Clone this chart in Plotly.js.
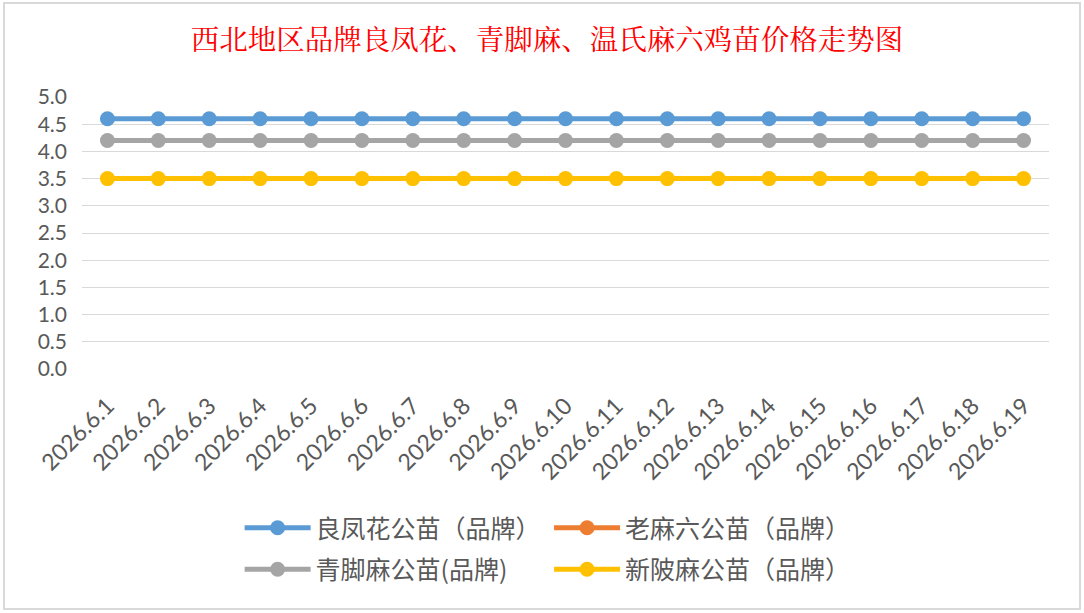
<!DOCTYPE html>
<html>
<head>
<meta charset="utf-8">
<script src="https://cdn.plot.ly/plotly-3.0.1.min.js"></script>
<style>
  html, body { margin: 0; padding: 0; background: #ffffff; }
  #graph { position: absolute; left: 0; top: 0; width: 1084px; height: 613px; }
  #frame {
    position: absolute; left: 3px; top: 2px; width: 1074px; height: 604px;
    border: 2px solid #d9d9d9; pointer-events: none;
  }
</style>
</head>
<body>
<div id="graph"></div>
<div id="frame"></div>
<script>
// data
const dates = ["2026.6.1", "2026.6.2", "2026.6.3", "2026.6.4", "2026.6.5", "2026.6.6", "2026.6.7",
    "2026.6.8", "2026.6.9", "2026.6.10", "2026.6.11", "2026.6.12", "2026.6.13", "2026.6.14",
    "2026.6.15", "2026.6.16", "2026.6.17", "2026.6.18", "2026.6.19"];
const liangFengHua = [4.6, 4.6, 4.6, 4.6, 4.6, 4.6, 4.6, 4.6, 4.6, 4.6, 4.6, 4.6, 4.6, 4.6, 4.6, 4.6, 4.6, 4.6, 4.6];
// no visible marks for this series in the picture
const laoMaLiu = [null, null, null, null, null, null, null, null, null, null, null, null, null, null, null, null, null, null, null];
const qingJiaoMa = [4.2, 4.2, 4.2, 4.2, 4.2, 4.2, 4.2, 4.2, 4.2, 4.2, 4.2, 4.2, 4.2, 4.2, 4.2, 4.2, 4.2, 4.2, 4.2];
const xinPiMa = [3.5, 3.5, 3.5, 3.5, 3.5, 3.5, 3.5, 3.5, 3.5, 3.5, 3.5, 3.5, 3.5, 3.5, 3.5, 3.5, 3.5, 3.5, 3.5];
const yTicks = [0, 0.5, 1, 1.5, 2, 2.5, 3, 3.5, 4, 4.5, 5];

const numFont = "Lato, 'Noto Sans CJK SC', sans-serif";
const cjkFont = "'Noto Sans CJK SC', Lato, sans-serif";

function series(name, y, color, legend) {
    return {
        name: name,
        x: dates,
        y: y,
        type: 'scatter',
        mode: 'lines+markers',
        line: { color: color, width: 5 },
        marker: { color: color, size: 15 },
        legend: legend,
        legendgroup: name,
    };
}

const traces = [
    series("良凤花公苗（品牌）", liangFengHua, "#5B9BD5", "legend"),
    series("老麻六公苗（品牌）", laoMaLiu, "#ED7D31", "legend2"),
    series("青脚麻公苗(品牌)", qingJiaoMa, "#A5A5A5", "legend"),
    series("新陂麻公苗（品牌）", xinPiMa, "#FFC000", "legend2"),
];

const legendBase = {
    orientation: 'v',
    xanchor: 'left',
    yanchor: 'top',
    y: -0.5,
    font: { family: cjkFont, size: 25, color: '#595959' },
    bgcolor: 'rgba(0,0,0,0)',
    tracegroupgap: 6,
    itemwidth: 66,
};

const layout = {
    width: 1084,
    height: 613,
    margin: { l: 82, r: 35, t: 97, b: 244 },
    paper_bgcolor: '#ffffff',
    plot_bgcolor: '#ffffff',
    title: {
        text: "西北地区品牌良凤花、青脚麻、温氏麻六鸡苗价格走势图",
        font: { family: "'Noto Serif CJK SC', 'Noto Sans CJK SC', serif", size: 28.5, color: '#FF0000' },
        x: 547 / 1084,
        xanchor: 'center',
        xref: 'container',
        y: 1 - 40 / 613,
        yanchor: 'middle',
        yref: 'container',
    },
    xaxis: {
        type: 'category',
        range: [-0.5, 18.5],
        tickangle: -45,
        tickfont: { family: numFont, size: 23, color: '#595959' },
        showgrid: false,
        showline: false,
        ticks: '',
        ticklabelstandoff: 18,
        fixedrange: true,
    },
    yaxis: {
        range: [0, 5],
        tickvals: yTicks,
        tickformat: '.1f',
        tickfont: { family: numFont, size: 21, color: '#595959' },
        showgrid: true,
        gridcolor: '#d9d9d9',
        gridwidth: 1,
        zeroline: false,
        showline: false,
        ticks: '',
        ticklabelstandoff: 14,
        fixedrange: true,
    },
    showlegend: true,
    legend: Object.assign({}, legendBase, { x: 0.163 }),
    legend2: Object.assign({}, legendBase, { x: 0.483 }),
};

Plotly.newPlot('graph', traces, layout, { displayModeBar: false, staticPlot: true });
</script>
</body>
</html>
